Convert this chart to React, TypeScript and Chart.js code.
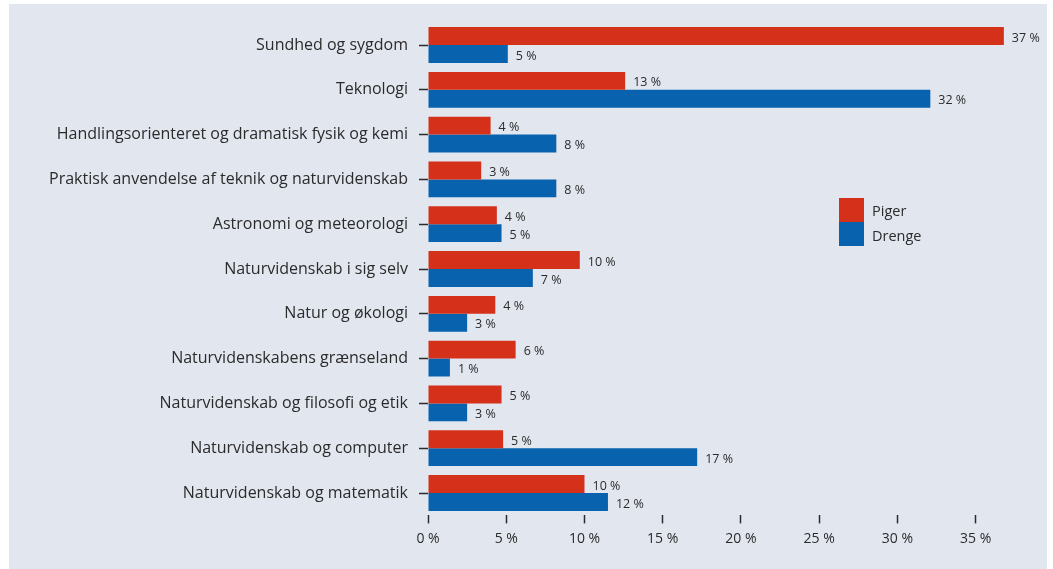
import React, { useEffect, useRef } from "react";
import { Chart, registerables } from "chart.js";

Chart.register(...registerables);

const categories = [
  "Sundhed og sygdom",
  "Teknologi",
  "Handlingsorienteret og dramatisk fysik og kemi",
  "Praktisk anvendelse af teknik og naturvidenskab",
  "Astronomi og meteorologi",
  "Naturvidenskab i sig selv",
  "Natur og økologi",
  "Naturvidenskabens grænseland",
  "Naturvidenskab og filosofi og etik",
  "Naturvidenskab og computer",
  "Naturvidenskab og matematik",
];

const seriesNames = ["Piger", "Drenge"];
const pigerValues = [36.8, 12.6, 4.0, 3.4, 4.4, 9.7, 4.3, 5.6, 4.7, 4.8, 10.0];
const drengeValues = [5.1, 32.1, 8.2, 8.2, 4.7, 6.7, 2.5, 1.4, 2.5, 17.2, 11.5];
const pigerLabels = ["37 %", "13 %", "4 %", "3 %", "4 %", "10 %", "4 %", "6 %", "5 %", "5 %", "10 %"];
const drengeLabels = ["5 %", "32 %", "8 %", "8 %", "5 %", "7 %", "3 %", "1 %", "3 %", "17 %", "12 %"];
const xTickValues = [0, 5, 10, 15, 20, 25, 30, 35];

const RED = "#d5311a";
const BLUE = "#0862ad";
const TEXT = "#2b2b2b";
const FONT = "'Open Sans', Lato, sans-serif";

export default function App() {
  const ref = useRef<HTMLCanvasElement | null>(null);

  useEffect(() => {
    document.body.style.margin = "0";
    const canvas = ref.current;
    if (!canvas) return;
    const labelSets = [pigerLabels, drengeLabels];

    const valueLabels = {
      id: "valueLabels",
      afterDatasetsDraw(chart: any) {
        const ctx = chart.ctx;
        ctx.save();
        ctx.font = `12.5px ${FONT}`;
        ctx.fillStyle = TEXT;
        ctx.textAlign = "left";
        ctx.textBaseline = "middle";
        chart.data.datasets.forEach((_: any, di: number) => {
          const meta = chart.getDatasetMeta(di);
          meta.data.forEach((el: any, i: number) => {
            ctx.fillText(labelSets[di][i], el.x + 8, el.y + 2);
          });
        });
        ctx.restore();
      },
    };

    const customLegend = {
      id: "customLegend",
      afterDraw(chart: any) {
        const ctx = chart.ctx;
        ctx.save();
        const colors = [RED, BLUE];
        ctx.font = `14.5px ${FONT}`;
        ctx.textBaseline = "middle";
        ctx.textAlign = "left";
        seriesNames.forEach((name, i) => {
          ctx.fillStyle = colors[i];
          ctx.fillRect(839, 198 + i * 24, 25, 24);
          ctx.fillStyle = TEXT;
          ctx.fillText(name, 872, 212 + i * 25);
        });
        ctx.restore();
      },
    };

    const chart = new Chart(canvas, {
      type: "bar",
      data: {
        labels: categories,
        datasets: [
          { label: seriesNames[0], data: pigerValues, backgroundColor: RED },
          { label: seriesNames[1], data: drengeValues, backgroundColor: BLUE },
        ],
      },
      options: {
        indexAxis: "y",
        responsive: false,
        animation: false,
        devicePixelRatio: 1,
        categoryPercentage: 0.8,
        barPercentage: 1.0,
        layout: { padding: { top: 22.6, right: 46, bottom: 0, left: 0 } },
        plugins: {
          legend: { display: false },
          tooltip: { enabled: false },
        },
        scales: {
          x: {
            min: 0,
            max: 37,
            afterBuildTicks(scale: any) {
              scale.ticks = xTickValues.map((v) => ({ value: v }));
            },
            afterFit(scale: any) {
              scale.height = 53.6;
            },
            border: { display: false },
            grid: {
              drawOnChartArea: false,
              drawTicks: true,
              tickLength: 8,
              tickColor: TEXT,
              tickWidth: 1.5,
            },
            ticks: {
              padding: 7,
              color: TEXT,
              font: { family: FONT, size: 14 },
              callback: (v: any) => `${v} %`,
              maxRotation: 0,
            },
          },
          y: {
            afterFit(scale: any) {
              scale.width = 428;
            },
            border: { display: false },
            grid: {
              offset: false,
              drawOnChartArea: false,
              drawTicks: true,
              tickLength: 9,
              tickColor: TEXT,
              tickWidth: 1.5,
            },
            ticks: {
              padding: 11,
              color: TEXT,
              font: { family: FONT, size: 16 },
            },
          },
        },
      },
      plugins: [valueLabels, customLegend],
    } as any);

    return () => chart.destroy();
  }, []);

  return (
    <div style={{ position: "relative", width: 1053, height: 569, background: "#ffffff" }}>
      <div
        style={{
          position: "absolute",
          left: 9,
          top: 4,
          width: 1038,
          height: 565,
          background: "#e2e6ef",
        }}
      />
      <canvas
        ref={ref}
        width={1053}
        height={569}
        style={{ position: "absolute", left: 0, top: 0 }}
      />
    </div>
  );
}
